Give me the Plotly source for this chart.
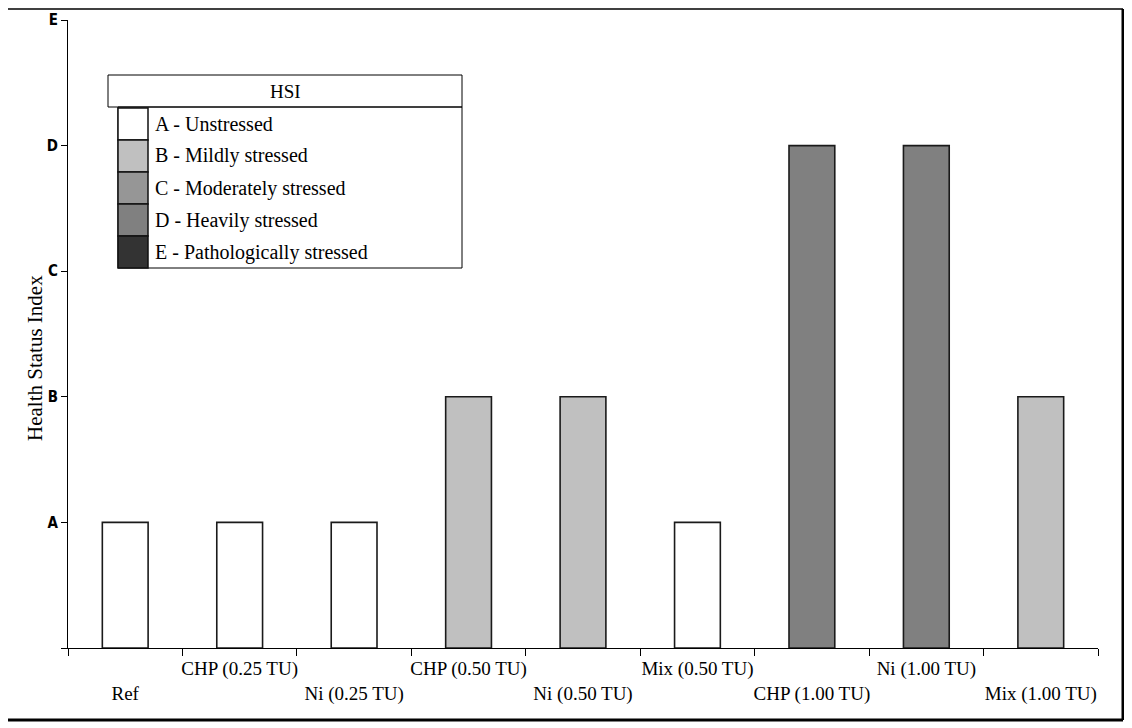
import plotly.graph_objects as go

# HSI class per exposure group
groups = ["Ref", "CHP (0.25 TU)", "Ni (0.25 TU)", "CHP (0.50 TU)", "Ni (0.50 TU)",
          "Mix (0.50 TU)", "CHP (1.00 TU)", "Ni (1.00 TU)", "Mix (1.00 TU)"]
hsi = ["A", "A", "A", "B", "B", "A", "D", "D", "B"]

levels = ["A", "B", "C", "D", "E"]
level_names = ["A - Unstressed", "B - Mildly stressed", "C - Moderately stressed",
               "D - Heavily stressed", "E - Pathologically stressed"]
level_colors = ["#ffffff", "#c0c0c0", "#969696", "#808080", "#333333"]

SERIF = "Liberation Serif, Times New Roman, serif"
# page body has an 8px margin, so the figure is drawn 8px in from the window edge
OFF = 8
W, H = 1132 - OFF, 728 - OFF
L, R, T, B = 68 - OFF, 34, 20 - OFF, 80
PW, PH = W - L - R, H - T - B


def px(x):
    return (x - OFF - L) / PW


def py(y):
    return (H - B - (y - OFF)) / PH


values = [levels.index(h) + 1 for h in hsi]
colors = [level_colors[levels.index(h)] for h in hsi]
ticktext = [g if i % 2 else "<br>" + g for i, g in enumerate(groups)]

fig = go.Figure(go.Bar(
    x=groups,
    y=values,
    marker=dict(color=colors, line=dict(color="#1a1a1a", width=1.6)),
    hoverinfo="skip",
))

# legend drawn by hand: header box + stacked swatches
shapes = [
    dict(type="rect", xref="paper", yref="paper", x0=px(108), x1=px(462),
         y0=py(107), y1=py(75), line=dict(color="#000", width=1)),
    dict(type="rect", xref="paper", yref="paper", x0=px(118), x1=px(462),
         y0=py(268), y1=py(107), line=dict(color="#000", width=1)),
]
annotations = [
    dict(text="HSI", xref="paper", yref="paper", x=px(285), y=py(91),
         xanchor="center", yanchor="middle", showarrow=False,
         font=dict(family=SERIF, size=19, color="#000")),
    # y-axis title sits a bit below the middle of the axis in the original
    dict(text="Health Status Index", xref="paper", yref="paper", x=px(35), y=py(358),
         xanchor="center", yanchor="middle", textangle=-90, showarrow=False,
         font=dict(family=SERIF, size=21, color="#000")),
]
row_h = 32
for i, (name, col) in enumerate(zip(level_names, level_colors)):
    top = 108 + i * row_h
    shapes.append(dict(type="rect", xref="paper", yref="paper", x0=px(118), x1=px(148),
                       y0=py(top + row_h), y1=py(top), fillcolor=col,
                       line=dict(color="#111", width=1.5)))
    annotations.append(dict(text=name, xref="paper", yref="paper", x=px(153),
                            y=py(top + row_h / 2), xanchor="left", yanchor="middle",
                            showarrow=False,
                            font=dict(family=SERIF, size=20, color="#000")))

# figure frame
for x0, y0, x1, y1, w in [(0, 9, 1123, 9, 1.5), (1123, 9, 1123, 720, 3),
                          (0, 720, 1123, 720, 3)]:
    shapes.append(dict(type="line", xref="paper", yref="paper", x0=px(x0), x1=px(x1),
                       y0=py(y0), y1=py(y1), line=dict(color="#000", width=w)))

fig.update_layout(
    width=W, height=H,
    margin=dict(l=L, r=R, t=T, b=B),
    paper_bgcolor="white", plot_bgcolor="white",
    bargap=0.6,
    showlegend=False,
    shapes=shapes,
    annotations=annotations,
    xaxis=dict(
        type="category",
        tickmode="array", tickvals=groups, ticktext=ticktext, tickangle=0,
        tickson="boundaries", ticks="outside", ticklen=7, tickcolor="#000",
        ticklabelstandoff=3,
        showline=True, linecolor="#000", linewidth=1, showgrid=False,
        tickfont=dict(family=SERIF, size=19, color="#000"),
        range=[-0.5, 8.5], automargin=False,
    ),
    yaxis=dict(
        range=[0, 5],
        tickmode="array", tickvals=[0, 1, 2, 3, 4, 5], ticktext=[""] + levels,
        ticks="outside", ticklen=6, tickcolor="#000",
        showline=True, linecolor="#000", linewidth=1, showgrid=False, zeroline=False,
        tickfont=dict(family="DejaVu Sans Condensed, Arial Narrow, sans-serif",
                      size=15, color="#000", weight="bold"),
        automargin=False,
    ),
)

fig.write_html("out.html")
